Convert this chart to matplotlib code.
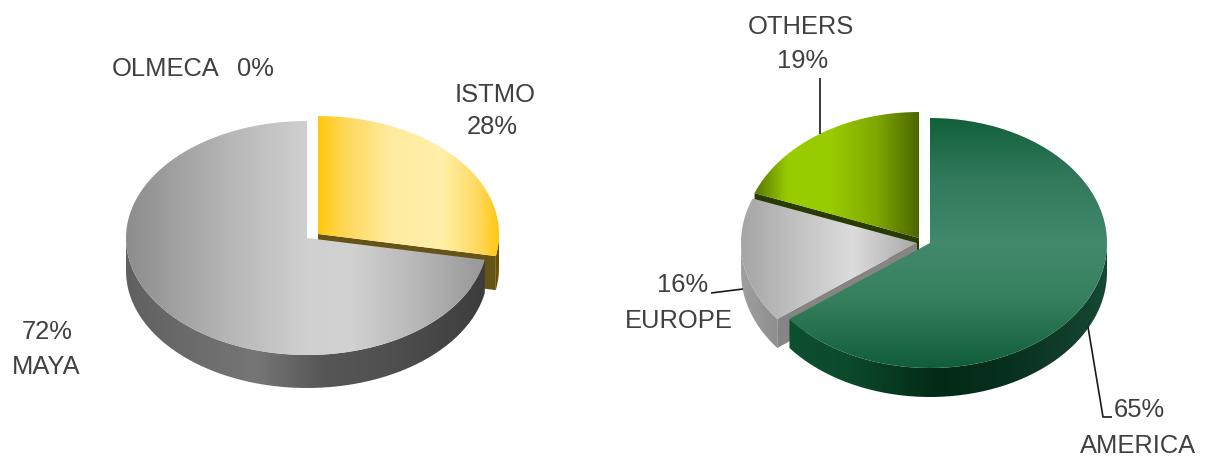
import numpy as np
import matplotlib
matplotlib.use("Agg")
import matplotlib.pyplot as plt
from matplotlib.path import Path
from matplotlib.patches import PathPatch
from matplotlib.colors import to_rgb

# ---- data ----
left_labels = ["ISTMO", "MAYA", "OLMECA"]
left_values = [28, 72, 0]
right_labels = ["AMERICA", "EUROPE", "OTHERS"]
right_values = [64.6, 16.2, 19.2]

TEXT = "#404040"
plt.rcParams["font.family"] = ["Liberation Sans", "DejaVu Sans"]
fig = plt.figure(figsize=(12.07, 4.59), dpi=100)
ax = fig.add_axes([0, 0, 1, 1])


def ramp(stops, horizontal=True, n=256):
    pos = [s[0] for s in stops]
    cols = np.array([to_rgb(s[1]) for s in stops])
    u = np.linspace(0, 1, n)
    arr = np.stack([np.interp(u, pos, cols[:, i]) for i in range(3)], axis=-1)
    return arr[None, :, :] if horizontal else arr[:, None, :]


def pt(g, t):
    t = np.radians(t)
    return g["cx"] + g["rx"] * np.sin(t), g["cy"] - g["ry"] * np.cos(t)


def fill(verts, stops, extent, z, horizontal=True):
    verts = np.asarray(verts)
    verts = np.vstack([verts, verts[0]])
    path = Path(verts)
    patch = PathPatch(path, fc="none", ec="none", transform=ax.transData)
    ax.add_patch(patch)
    im = ax.imshow(ramp(stops, horizontal), extent=extent, aspect="auto",
                   interpolation="bilinear", zorder=z, origin="upper")
    im.set_clip_path(patch)


def slice3d(g, t0, t1, z):
    cx, cy, rx, ry, d = g["cx"], g["cy"], g["rx"], g["ry"], g["depth"]
    box = (cx - rx - 2, cx + rx + 2, cy + ry + d + 2, cy - ry - 2)
    # radial cut faces facing the viewer
    for t, sign in ((t0, -1), (t1, 1)):
        if sign * np.sin(np.radians(t)) > 0.01:
            x, y = pt(g, t)
            fill([(cx, cy), (x, y), (x, y + d), (cx, cy + d)],
                 [(0, g["cut"]), (1, g["cut"])], box, z)
    # outer rim
    a, b = max(t0, 90), min(t1, 270)
    if b > a:
        ts = np.linspace(a, b, 160)
        xs, ys = pt(g, ts)
        verts = np.vstack([np.c_[xs, ys], np.c_[xs[::-1], ys[::-1] + d]])
        fill(verts, g["side"], box, z + 0.1)
    # top face
    ts = np.linspace(t0, t1, 240)
    xs, ys = pt(g, ts)
    verts = np.vstack([[(cx, cy)], np.c_[xs, ys]])
    tbox = (cx - rx - 2, cx + rx + 2, cy + ry + 2, cy - ry - 2)
    fill(verts, g["top"], tbox, z + 0.2, g.get("horizontal", True))


styles = {
    "ISTMO": dict(cx=318, cy=234, rx=181, ry=118, depth=34, cut="#665416",
                  top=[(0, "#ffc000"), (0.5, "#ffc90e"), (0.58, "#ffd95e"), (0.70, "#ffeb9f"),
                       (0.84, "#fff0a8"), (0.94, "#ffd95e"), (1, "#ffc60a")],
                  side=[(0, "#6b5200"), (1, "#6b5200")]),
    "MAYA": dict(cx=307, cy=238, rx=181, ry=117, depth=33, cut="#555555",
                 top=[(0, "#8c8c8c"), (0.27, "#b4b4b4"), (0.5, "#d0d0d0"), (0.62, "#d2d2d2"),
                      (0.82, "#b4b4b4"), (1, "#959595")],
                 side=[(0, "#606060"), (0.36, "#767676"), (0.55, "#565656"), (0.72, "#505050"), (1, "#3c3c3c")]),
    "AMERICA": dict(cx=930, cy=243, rx=177, ry=125, depth=29, cut="#0f4a2e", horizontal=False,
                    top=[(0, "#0f6039"), (0.25, "#33795c"), (0.5, "#42896b"), (0.72, "#37805f"),
                         (1, "#0f5c38")],
                    side=[(0, "#0f5233"), (0.27, "#0c4a2c"), (0.52, "#032a16"), (0.72, "#08301e"), (1, "#164832")]),
    "EUROPE": dict(cx=917, cy=243, rx=176, ry=125, depth=29, cut="#858585",
                   top=[(0, "#a4a4a4"), (0.15, "#c0c0c0"), (0.32, "#dcdcdc"), (0.5, "#a8a8a8"), (1, "#a0a0a0")],
                   side=[(0, "#a0a0a0"), (0.12, "#8c8c8c"), (1, "#808080")]),
    "OTHERS": dict(cx=919, cy=238, rx=176, ry=126, depth=29, cut="#2b3b00",
                   top=[(0, "#3c5500"), (0.13, "#99cc00"), (0.25, "#99cc00"), (0.38, "#7fa800"),
                        (0.5, "#4a6600"), (1, "#4a6600")],
                   side=[(0, "#2b3b00"), (1, "#2b3b00")]),
}


def pie(labels, values, draw_order):
    total = sum(values)
    start = 0
    bounds = {}
    for lab, val in zip(labels, values):
        end = start + 360 * val / total
        bounds[lab] = (start, end)
        start = end
    for z, lab in enumerate(draw_order):
        if bounds[lab][1] > bounds[lab][0]:
            slice3d(styles[lab], *bounds[lab], 2 + z)


pie(left_labels, left_values, ["ISTMO", "MAYA"])
pie(right_labels, right_values, ["OTHERS", "EUROPE", "AMERICA"])

left_val = dict(zip(left_labels, left_values))
right_val = dict(zip(right_labels, right_values))


def txt(x, y, s, ha="center"):
    ax.text(x, y, s, ha=ha, va="center", fontsize=18.4, color=TEXT, zorder=20)


txt(112, 69, "OLMECA", ha="left")
txt(237, 69, f"{left_val['OLMECA']:.0f}%", ha="left")
txt(495, 95, "ISTMO")
txt(492, 127, f"{left_val['ISTMO']:.0f}%")
txt(47, 332, f"{left_val['MAYA']:.0f}%")
txt(46, 367, "MAYA")
txt(801, 27, "OTHERS")
txt(803, 61, f"{right_val['OTHERS']:.0f}%")
txt(683, 285, f"{right_val['EUROPE']:.0f}%")
txt(679, 321, "EUROPE")
txt(1139, 410, f"{right_val['AMERICA']:.0f}%")
txt(1138, 446, "AMERICA")

for xs, ys in [((820, 820), (78, 134)),
               ((711, 743), (293, 289)),
               ((1088, 1103, 1112), (327, 417, 417))]:
    ax.plot(xs, ys, color="#1a1a1a", lw=1.2, zorder=15, solid_capstyle="butt")

ax.set_xlim(0, 1207)
ax.set_ylim(459, 0)
ax.axis("off")
fig.savefig("out.png", dpi=100, facecolor="white")
